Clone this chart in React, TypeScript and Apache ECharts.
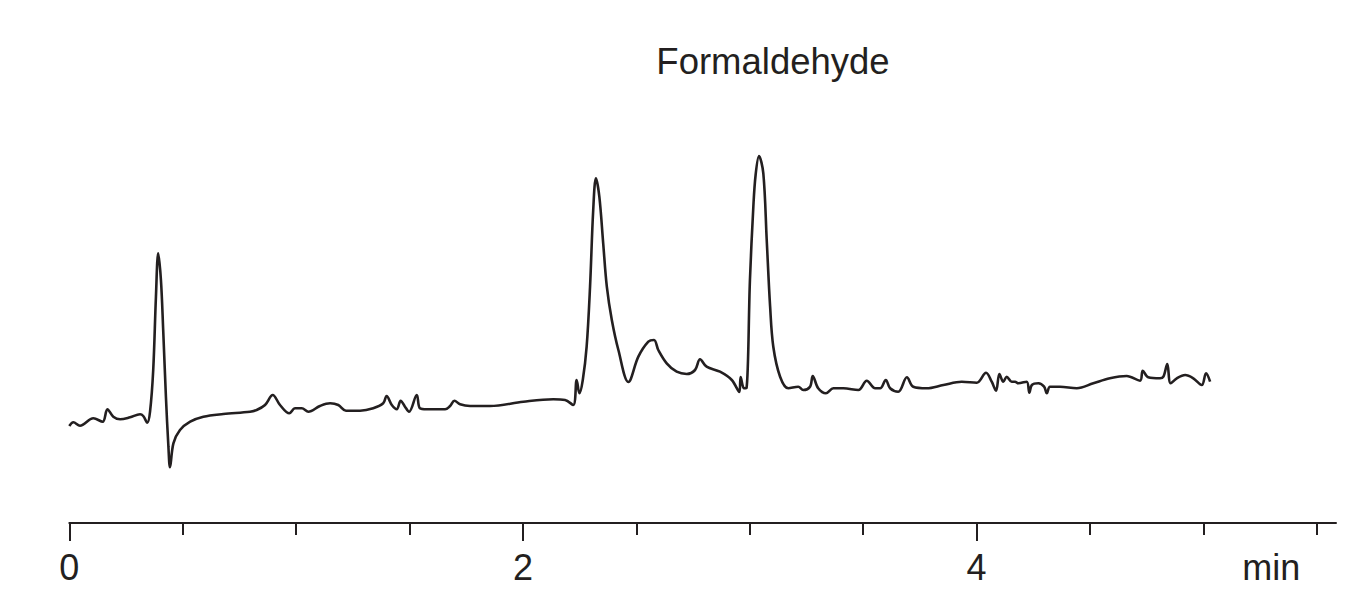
import React, { useEffect, useRef } from "react";
import * as echarts from "echarts";

const chartTitle = "Formaldehyde";
const unitLabel = "min";

// retention time (min)
const times = [
  0.0, 0.018, 0.047, 0.106, 0.147, 0.168, 0.194, 0.224, 0.268, 0.312, 0.326, 0.344,
  0.356, 0.37, 0.382, 0.392, 0.404, 0.414, 0.426, 0.437, 0.444, 0.459, 0.488, 0.533,
  0.591, 0.679, 0.797, 0.826, 0.863, 0.897, 0.929, 0.97, 0.995, 1.025, 1.054, 1.105,
  1.15, 1.186, 1.22, 1.282, 1.34, 1.384, 1.399, 1.422, 1.444, 1.461, 1.48, 1.498,
  1.532, 1.546, 1.576, 1.657, 1.679, 1.698, 1.723, 1.767, 1.855, 2.002, 2.134, 2.186,
  2.222, 2.237, 2.249, 2.264, 2.281, 2.296, 2.31, 2.322, 2.337, 2.354, 2.37, 2.392,
  2.421, 2.465, 2.509, 2.553, 2.578, 2.597, 2.634, 2.678, 2.722, 2.759, 2.781, 2.81,
  2.869, 2.921, 2.954, 2.96, 2.975, 2.986, 3.001, 3.016, 3.026, 3.041, 3.06, 3.075,
  3.09, 3.104, 3.134, 3.17, 3.214, 3.236, 3.266, 3.278, 3.302, 3.336, 3.369, 3.413,
  3.479, 3.516, 3.553, 3.575, 3.6, 3.619, 3.655, 3.693, 3.721, 3.78, 3.854, 3.935,
  4.001, 4.042, 4.067, 4.086, 4.101, 4.118, 4.133, 4.155, 4.17, 4.184, 4.221, 4.233,
  4.244, 4.273, 4.298, 4.31, 4.324, 4.368, 4.442, 4.515, 4.588, 4.662, 4.721, 4.733,
  4.757, 4.809, 4.824, 4.841, 4.856, 4.883, 4.92, 4.956, 4.993, 5.012, 5.03,
];

// detector signal (arbitrary units)
const signal = [
  9.7, 10.07, 9.73, 10.47, 10.13, 11.37, 10.63, 10.37, 10.57, 10.87, 10.7, 10.03,
  11.13, 15.3, 22.63, 26.97, 24.3, 19.3, 12.63, 7.63, 5.57, 7.97, 9.3, 10.13,
  10.63, 10.9, 11.13, 11.3, 11.8, 12.8, 11.8, 10.97, 11.47, 11.47, 11.13, 11.7,
  11.97, 11.8, 11.23, 11.23, 11.47, 11.97, 12.7, 11.8, 11.37, 12.23, 11.63, 11.13,
  12.8, 11.47, 11.37, 11.37, 11.7, 12.23, 11.87, 11.7, 11.7, 12.13, 12.37, 12.3,
  11.8, 14.3, 12.97, 14.3, 17.63, 23.63, 31.3, 34.47, 32.63, 27.97, 23.63, 20.3,
  17.3, 14.1, 16.63, 18.13, 18.3, 17.3, 15.97, 15.13, 14.9, 15.3, 16.37, 15.63,
  15.13, 14.3, 13.1, 14.6, 13.47, 13.5, 24.3, 31.63, 34.8, 36.7, 34.97, 28.3,
  21.63, 17.63, 14.63, 13.47, 13.63, 13.3, 13.63, 14.7, 13.47, 12.97, 13.47, 13.47,
  13.3, 14.23, 13.47, 13.47, 14.3, 13.47, 13.13, 14.57, 13.63, 13.47, 13.8, 14.13,
  14.03, 15.03, 14.13, 13.23, 14.9, 14.13, 14.63, 14.13, 14.13, 13.97, 14.13, 13.03,
  13.8, 13.97, 13.63, 12.97, 13.63, 13.63, 13.47, 13.97, 14.47, 14.7, 14.23, 15.23,
  14.57, 14.47, 14.63, 15.9, 13.97, 14.47, 14.8, 14.47, 13.8, 14.97, 14.13,
];

const tickValues = [0, 0.5, 1, 1.5, 2, 2.5, 3, 3.5, 4, 4.5, 5, 5.5];
const majorTickValues = [0, 2, 4];
const labelValues = [0, 2, 4];
const unitLabelPosition = 5.3;
const xMin = 0;
const xMax = 5.585;
const yMin = 0;
const yMax = 42.3;

const INK = "#231f20";
const FONT = "'Liberation Sans', Arial, sans-serif";

const tickOnlyAxis = (values: number[], length: number) => ({
  type: "value",
  min: xMin,
  max: xMax,
  position: "bottom",
  axisLine: { show: false },
  axisTick: {
    show: true,
    inside: false,
    length,
    customValues: values,
    lineStyle: { color: INK, width: 2 },
  },
  axisLabel: { show: false },
  splitLine: { show: false },
});

export default function App() {
  const ref = useRef<HTMLDivElement>(null);

  useEffect(() => {
    if (!ref.current) return;
    const chart = echarts.init(ref.current, undefined, { renderer: "svg" });
    const data = times.map((t, i) => [t, signal[i]]);
    chart.setOption({
      animation: false,
      backgroundColor: "#ffffff",
      title: {
        text: chartTitle,
        left: 768,
        top: 38,
        textAlign: "center",
        textStyle: { fontSize: 36.5, fontWeight: "normal", fontFamily: FONT, color: INK },
      },
      grid: { left: 69.3, right: 30, top: 100, bottom: 67, containLabel: false },
      xAxis: [
        {
          type: "value",
          min: xMin,
          max: xMax,
          position: "bottom",
          axisLine: { show: true, lineStyle: { color: INK, width: 2 } },
          axisTick: { show: false },
          axisLabel: {
            show: true,
            customValues: [...labelValues, unitLabelPosition],
            formatter: (v: number) => (v > 5 ? unitLabel : String(v)),
            fontSize: 36,
            fontFamily: FONT,
            color: INK,
            margin: 26,
          },
          splitLine: { show: false },
        },
        tickOnlyAxis(tickValues, 12),
        tickOnlyAxis(majorTickValues, 18),
      ],
      yAxis: { type: "value", min: yMin, max: yMax, show: false },
      series: [
        {
          type: "line",
          xAxisIndex: 0,
          data,
          showSymbol: false,
          smooth: 0.35,
          lineStyle: { color: INK, width: 2.6 },
        },
      ],
    });
    return () => chart.dispose();
  }, []);

  return (
    <div
      ref={ref}
      style={{ position: "fixed", left: 0, top: 0, width: 1366, height: 590, background: "#fff" }}
    />
  );
}
